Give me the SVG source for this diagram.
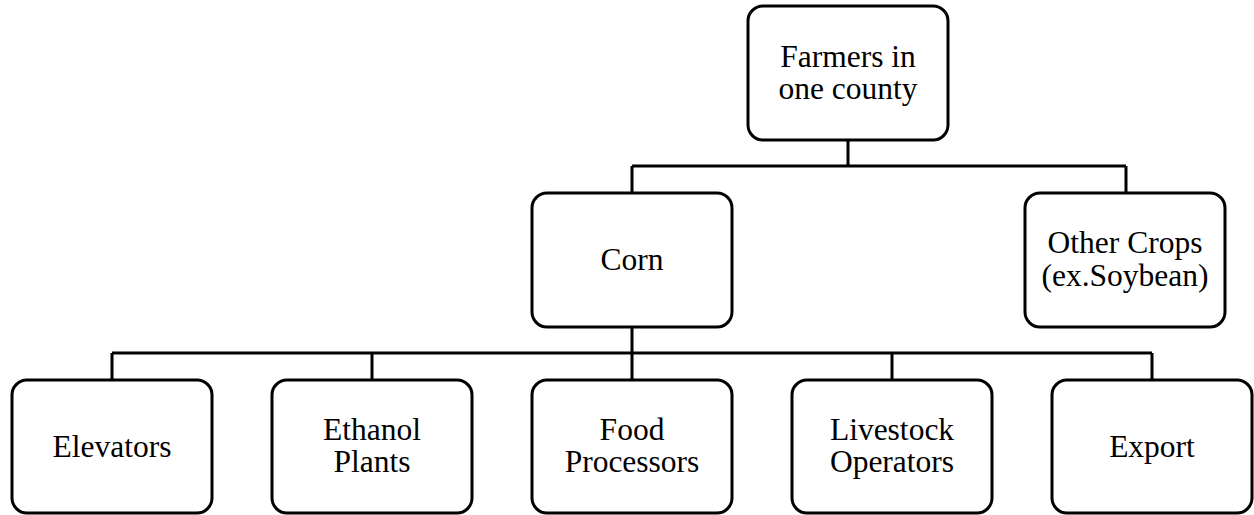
<svg xmlns="http://www.w3.org/2000/svg" width="1254" height="515" viewBox="0 0 1254 515">
<style>
.box{fill:#fff;stroke:#000;stroke-width:3}
.ln{fill:none;stroke:#000;stroke-width:3}
text{font-family:"Liberation Serif","Times New Roman",serif;font-size:31.5px;fill:#000;text-anchor:middle}
</style>
<rect width="1254" height="515" fill="#fff"/>
<g id="connectors">
<path class="ln" d="M848 140V166M632 166H1126M632 166V193M1126 166V193"/>
<path class="ln" d="M632 327V380M112 353H1152M112 353V380M372 353V380M892 353V380M1152 353V380"/>
</g>
<g id="farmers"><rect class="box" x="748" y="6" width="200" height="134" rx="15"/><text x="848" y="67">Farmers in</text><text x="848" y="99">one county</text></g>
<g id="corn"><rect class="box" x="532" y="193" width="200" height="134" rx="15"/><text x="632" y="270">Corn</text></g>
<g id="other"><rect class="box" x="1025" y="193" width="200" height="134" rx="15"/><text x="1125" y="253">Other Crops</text><text x="1125" y="286">(ex.Soybean)</text></g>
<g id="elevators"><rect class="box" x="12" y="380" width="200" height="133" rx="15"/><text x="112" y="457">Elevators</text></g>
<g id="ethanol"><rect class="box" x="272" y="380" width="200" height="133" rx="15"/><text x="372" y="440">Ethanol</text><text x="372" y="472">Plants</text></g>
<g id="food"><rect class="box" x="532" y="380" width="200" height="133" rx="15"/><text x="632" y="440">Food</text><text x="632" y="472">Processors</text></g>
<g id="livestock"><rect class="box" x="792" y="380" width="200" height="133" rx="15"/><text x="892" y="440">Livestock</text><text x="892" y="472">Operators</text></g>
<g id="export"><rect class="box" x="1052" y="380" width="200" height="133" rx="15"/><text x="1152" y="457">Export</text></g>
</svg>
